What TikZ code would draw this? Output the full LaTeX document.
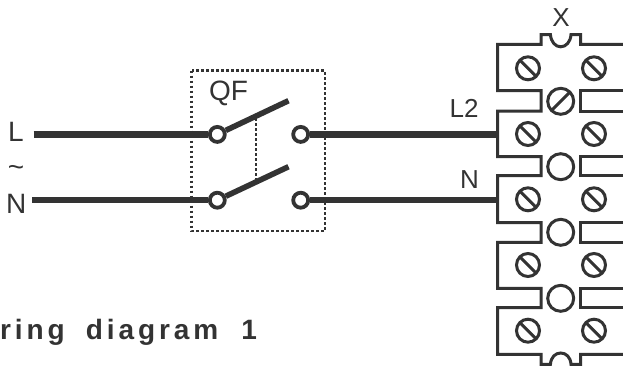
\documentclass[tikz,border=0pt]{standalone}
\usepackage{fontspec}
\setmainfont{Liberation Sans}
\definecolor{ink}{HTML}{333333}
\tikzset{
  x=1pt,y=-1pt,
  label text/.style={inner sep=0pt,text=ink,font=\fontsize{26}{26}\selectfont},
  big text/.style={inner sep=0pt,text=ink,font=\fontsize{28}{28}\selectfont},
  wire/.style={draw=ink,line width=6.2pt},
  blade/.style={draw=ink,line width=5.6pt},
  contact/.style={circle,draw=ink,fill=white,line width=3.8pt,minimum size=15pt,inner sep=0pt},
  dotbox/.style={draw=ink,line width=2.5pt,dash pattern=on 2.6pt off 2.4pt},
  block/.style={draw=ink,line width=3pt,line join=miter},
  screw/.style={circle,draw=ink,line width=3pt,minimum size=23pt,inner sep=0pt},
  hole/.style={circle,draw=ink,fill=white,line width=3pt,minimum size=26pt,inner sep=0pt},
  back slash/.style={path picture={\draw[ink,line width=3pt] (path picture bounding box.north west) -- (path picture bounding box.south east);}},
  fwd slash/.style={path picture={\draw[ink,line width=3pt] (path picture bounding box.south west) -- (path picture bounding box.north east);}},
}
\begin{document}
\begin{tikzpicture}
\useasboundingbox (0,0) rectangle (623,370);
% terminal block outline
\draw[block] (623,44.3) -- (580.7,44.3) -- (580.7,34.5) -- (571,34.5)
  .. controls (570.5,42) and (566,46.8) .. (560.7,46.8)
  .. controls (555.4,46.8) and (551,42) .. (550.4,34.5)
  -- (541,34.5) -- (541,44.3) -- (497.5,44.3)
  -- (497.5,90.7) -- (541,90.7) -- (541,111) -- (497.5,111)
  -- (497.5,156.7) -- (541,156.7) -- (541,175.7) -- (497.5,175.7)
  -- (497.5,222.7) -- (541,222.7) -- (541,242.3) -- (497.5,242.3)
  -- (497.5,288.3) -- (541,288.3) -- (541,307.7) -- (497.5,307.7)
  -- (497.5,354.3) -- (541,354.3) -- (541,364.3) -- (550.4,364.3)
  .. controls (551,357) and (555.4,353) .. (560.7,353)
  .. controls (566,353) and (570.5,357) .. (571,364.3)
  -- (580.7,364.3) -- (580.7,354.3) -- (623,354.3);
\draw[block] (623,90.7) -- (580.7,90.7) -- (580.7,111) -- (623,111);
\draw[block] (623,156.7) -- (580.7,156.7) -- (580.7,175.7) -- (623,175.7);
\draw[block] (623,222.7) -- (580.7,222.7) -- (580.7,242.3) -- (623,242.3);
\draw[block] (623,288.3) -- (580.7,288.3) -- (580.7,307.7) -- (623,307.7);
% links between terminals
\node[hole,fwd slash] (h1) at (560.7,101.3) {};
\node[hole] (h2) at (560.7,166.7) {};
\node[hole] (h3) at (560.7,232.3) {};
\node[hole] (h4) at (560.7,298.3) {};
% screws
\foreach \n/\yy in {1/68.3,2/134,3/199.3,4/265,5/330.7}{
  \node[screw,back slash] (sl\n) at (528,\yy) {};
  \node[screw,back slash] (sr\n) at (594,\yy) {};
}
% breaker enclosure
\draw[dotbox] (191.7,70.7) rectangle (325,231);
% wire end points
\coordinate (Lin) at (33.5,134.4);
\coordinate (Nin) at (32,200.2);
\coordinate (T2) at (497.5,134.4);
\coordinate (T3) at (497.5,200.2);
\coordinate (b1) at (288.5,100.7);
\coordinate (b2) at (288.5,166.7);
\coordinate (t1) at (256,118);
\coordinate (t2) at (256,180);
% contacts
\node[contact] (c1) at (217.3,134.4) {};
\node[contact] (c2) at (300.7,134.4) {};
\node[contact] (c3) at (217.3,200.2) {};
\node[contact] (c4) at (300.7,200.2) {};
% wires
\draw[wire] (Lin) -- (c1);
\draw[wire] (Nin) -- (c3);
\draw[wire] (c2) -- (T2);
\draw[wire] (c4) -- (T3);
\draw[blade] (c1) -- (b1);
\draw[blade] (c3) -- (b2);
\draw[dotbox] (t1) -- (t2);
% labels
\node[label text,anchor=base] (lx) at (561,26.7) {X};
\node[big text,anchor=base west] (lqf) at (209,100) {QF};
\node[big text,anchor=base west] (ll) at (8,141) {L};
\node[big text,anchor=base] (lt) at (16,176.5) {\char"007E};
\node[big text,anchor=base west] (ln) at (6,213) {N};
\node[label text,anchor=base west] (ll2) at (449.5,117) {L2};
\node[label text,anchor=base west] (ln2) at (460,188.5) {N};
\node[inner sep=0pt,anchor=base west,text=ink,font=\fontsize{28}{28}\selectfont\bfseries\addfontfeatures{LetterSpace=14}] (title) at (0,339)
  {ring\hspace{21pt}diagram\hspace{23pt}1};
\end{tikzpicture}
\end{document}
